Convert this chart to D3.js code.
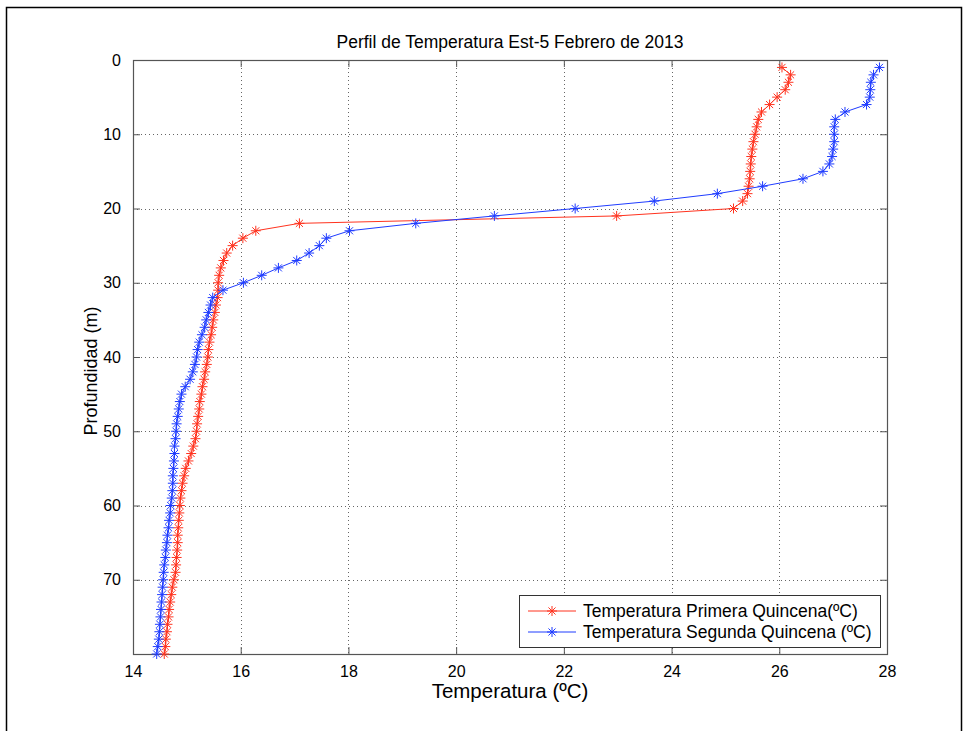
<!DOCTYPE html>
<html>
<head>
<meta charset="utf-8">
<script src="https://cdn.jsdelivr.net/npm/d3@7"></script>
<style>
  body { margin: 0; background: #fff; }
  svg { font-family: "Liberation Sans", Arial, Helvetica, sans-serif; }
  .grid line { stroke: #666; stroke-dasharray: 1,3; stroke-width: 1; }
  .tick text { fill: #000; }
</style>
</head>
<body>
<div id="chart"></div>
<script>
// profundidad (m), cada metro de 1 a 80
const depths = d3.range(1, 81);

// Temperatura Primera Quincena (ºC)
const tempPrimera = [
  26.05, 26.21, 26.17, 26.11, 25.96, 25.82, 25.67, 25.61, 25.58, 25.55,
  25.52, 25.50, 25.48, 25.47, 25.46, 25.45, 25.43, 25.41, 25.32, 25.15,
  22.98, 17.09, 16.28, 16.04, 15.85, 15.74, 15.68, 15.63, 15.60, 15.58,
  15.58, 15.57, 15.54, 15.52, 15.49, 15.47, 15.45, 15.42, 15.40, 15.39,
  15.37, 15.34, 15.32, 15.29, 15.27, 15.24, 15.23, 15.21, 15.19, 15.18,
  15.16, 15.12, 15.08, 15.03, 14.98, 14.95, 14.92, 14.90, 14.88, 14.87,
  14.86, 14.85, 14.84, 14.83, 14.83, 14.82, 14.81, 14.80, 14.79, 14.76,
  14.73, 14.71, 14.69, 14.67, 14.66, 14.64, 14.63, 14.61, 14.60, 14.58
];

// Temperatura Segunda Quincena (ºC)
const tempSegunda = [
  27.86, 27.75, 27.70, 27.69, 27.68, 27.62, 27.22, 27.04, 27.02, 27.02,
  27.02, 27.00, 26.98, 26.93, 26.81, 26.44, 25.69, 24.85, 23.68, 22.21,
  20.71, 19.25, 18.02, 17.59, 17.46, 17.27, 17.04, 16.70, 16.39, 16.05,
  15.67, 15.48, 15.44, 15.40, 15.36, 15.33, 15.28, 15.23, 15.20, 15.18,
  15.15, 15.11, 15.06, 14.97, 14.90, 14.87, 14.85, 14.83, 14.81, 14.80,
  14.79, 14.77, 14.77, 14.76, 14.75, 14.74, 14.74, 14.73, 14.72, 14.70,
  14.69, 14.67, 14.66, 14.64, 14.63, 14.61, 14.60, 14.58, 14.57, 14.56,
  14.55, 14.54, 14.53, 14.52, 14.51, 14.50, 14.49, 14.48, 14.46, 14.44
];

const xTicks = [14, 16, 18, 20, 22, 24, 26, 28];
const yTicks = [0, 10, 20, 30, 40, 50, 60, 70];

const series = [
  { name: "Temperatura Primera Quincena(ºC)", values: tempPrimera, color: "#ff331f" },
  { name: "Temperatura Segunda Quincena (ºC)", values: tempSegunda, color: "#1f3cff" }
];

const W = 969, H = 731;
const margin = { top: 60, left: 133, right: 82, bottom: 77 };
const w = W - margin.left - margin.right;
const h = H - margin.top - margin.bottom;

const svg = d3.select("#chart").append("svg")
  .attr("width", W)
  .attr("height", H);

// marco de la figura
svg.append("rect")
  .attr("x", 6.5).attr("y", 7.5)
  .attr("width", 955).attr("height", 740)
  .attr("fill", "none")
  .attr("stroke", "#000")
  .attr("stroke-width", 1.5);

const g = svg.append("g").attr("transform", `translate(${margin.left},${margin.top})`);

const x = d3.scaleLinear().domain([14, 28]).range([0, w]);
const y = d3.scaleLinear().domain([0, 80]).range([0, h]);

// rejilla punteada
const grid = g.append("g").attr("class", "grid");
grid.selectAll(".gx").data(xTicks.slice(1, -1)).enter().append("line")
  .attr("x1", d => Math.round(x(d)) + 0.5).attr("x2", d => Math.round(x(d)) + 0.5)
  .attr("y1", 0).attr("y2", h);
grid.selectAll(".gy").data(yTicks.slice(1)).enter().append("line")
  .attr("y1", d => Math.round(y(d)) + 0.5).attr("y2", d => Math.round(y(d)) + 0.5)
  .attr("x1", 0).attr("x2", w);

// ejes con marcas hacia dentro
const tickLen = 7;
const axisStyle = sel => {
  sel.select(".domain").remove();
  sel.selectAll(".tick line").attr("stroke", "#555");
  sel.selectAll(".tick text").attr("font-size", 16);
};

g.append("g").attr("transform", `translate(0,${h})`)
  .call(d3.axisBottom(x).tickValues(xTicks).tickSizeInner(-tickLen).tickSizeOuter(0).tickPadding(12).tickFormat(d3.format("d")))
  .call(axisStyle);
g.append("g")
  .call(d3.axisTop(x).tickValues(xTicks).tickSizeInner(-tickLen).tickSizeOuter(0).tickFormat(""))
  .call(axisStyle);
g.append("g")
  .call(d3.axisLeft(y).tickValues(yTicks).tickSizeInner(-tickLen).tickSizeOuter(0).tickPadding(12).tickFormat(d3.format("d")))
  .call(axisStyle);
g.append("g").attr("transform", `translate(${w},0)`)
  .call(d3.axisRight(y).tickValues(yTicks).tickSizeInner(-tickLen).tickSizeOuter(0).tickFormat(""))
  .call(axisStyle);

// caja de los ejes
g.append("rect")
  .attr("x", 0.5).attr("y", 0.5)
  .attr("width", w).attr("height", h)
  .attr("fill", "none")
  .attr("stroke", "#555")
  .attr("stroke-width", 1.2);

// marcador asterisco
const star = (sel, r) => {
  const d = r * 0.7071;
  sel.append("path")
    .attr("d", `M${-r},0H${r}M0,${-r}V${r}M${-d},${-d}L${d},${d}M${-d},${d}L${d},${-d}`);
};

series.forEach(s => {
  const pts = depths.map((dep, i) => [s.values[i], dep]);
  g.append("path")
    .datum(pts)
    .attr("fill", "none")
    .attr("stroke", s.color)
    .attr("stroke-width", 1)
    .attr("d", d3.line().x(d => x(d[0])).y(d => y(d[1])));

  g.append("g").selectAll("g").data(pts).enter().append("g")
    .attr("transform", d => `translate(${x(d[0])},${y(d[1])})`)
    .attr("stroke", s.color)
    .attr("stroke-width", 1)
    .call(sel => star(sel, 5));
});

// título y etiquetas
svg.append("text")
  .attr("x", margin.left + w / 2).attr("y", 48)
  .attr("text-anchor", "middle")
  .attr("font-size", 17.5)
  .text("Perfil de Temperatura Est-5 Febrero de 2013");

svg.append("text")
  .attr("x", margin.left + w / 2).attr("y", 698)
  .attr("text-anchor", "middle")
  .attr("font-size", 20.5)
  .text("Temperatura (ºC)");

svg.append("text")
  .attr("transform", `translate(97,${margin.top + h / 2 + 14}) rotate(-90)`)
  .attr("text-anchor", "middle")
  .attr("font-size", 18)
  .text("Profundidad (m)");

// leyenda
const leg = svg.append("g").attr("transform", "translate(519,595)");
leg.append("rect")
  .attr("x", 0.5).attr("y", 0.5)
  .attr("width", 361).attr("height", 52)
  .attr("fill", "#fff")
  .attr("stroke", "#333")
  .attr("stroke-width", 1);

series.forEach((s, i) => {
  const row = leg.append("g").attr("transform", `translate(0,${16 + i * 21})`);
  row.append("line")
    .attr("x1", 9).attr("x2", 57)
    .attr("stroke", s.color).attr("stroke-width", 1);
  row.append("g")
    .attr("transform", "translate(33,0)")
    .attr("stroke", s.color)
    .call(sel => star(sel, 5));
  row.append("text")
    .attr("x", 64).attr("y", 6)
    .attr("font-size", 17.5)
    .text(s.name);
});
</script>
</body>
</html>
